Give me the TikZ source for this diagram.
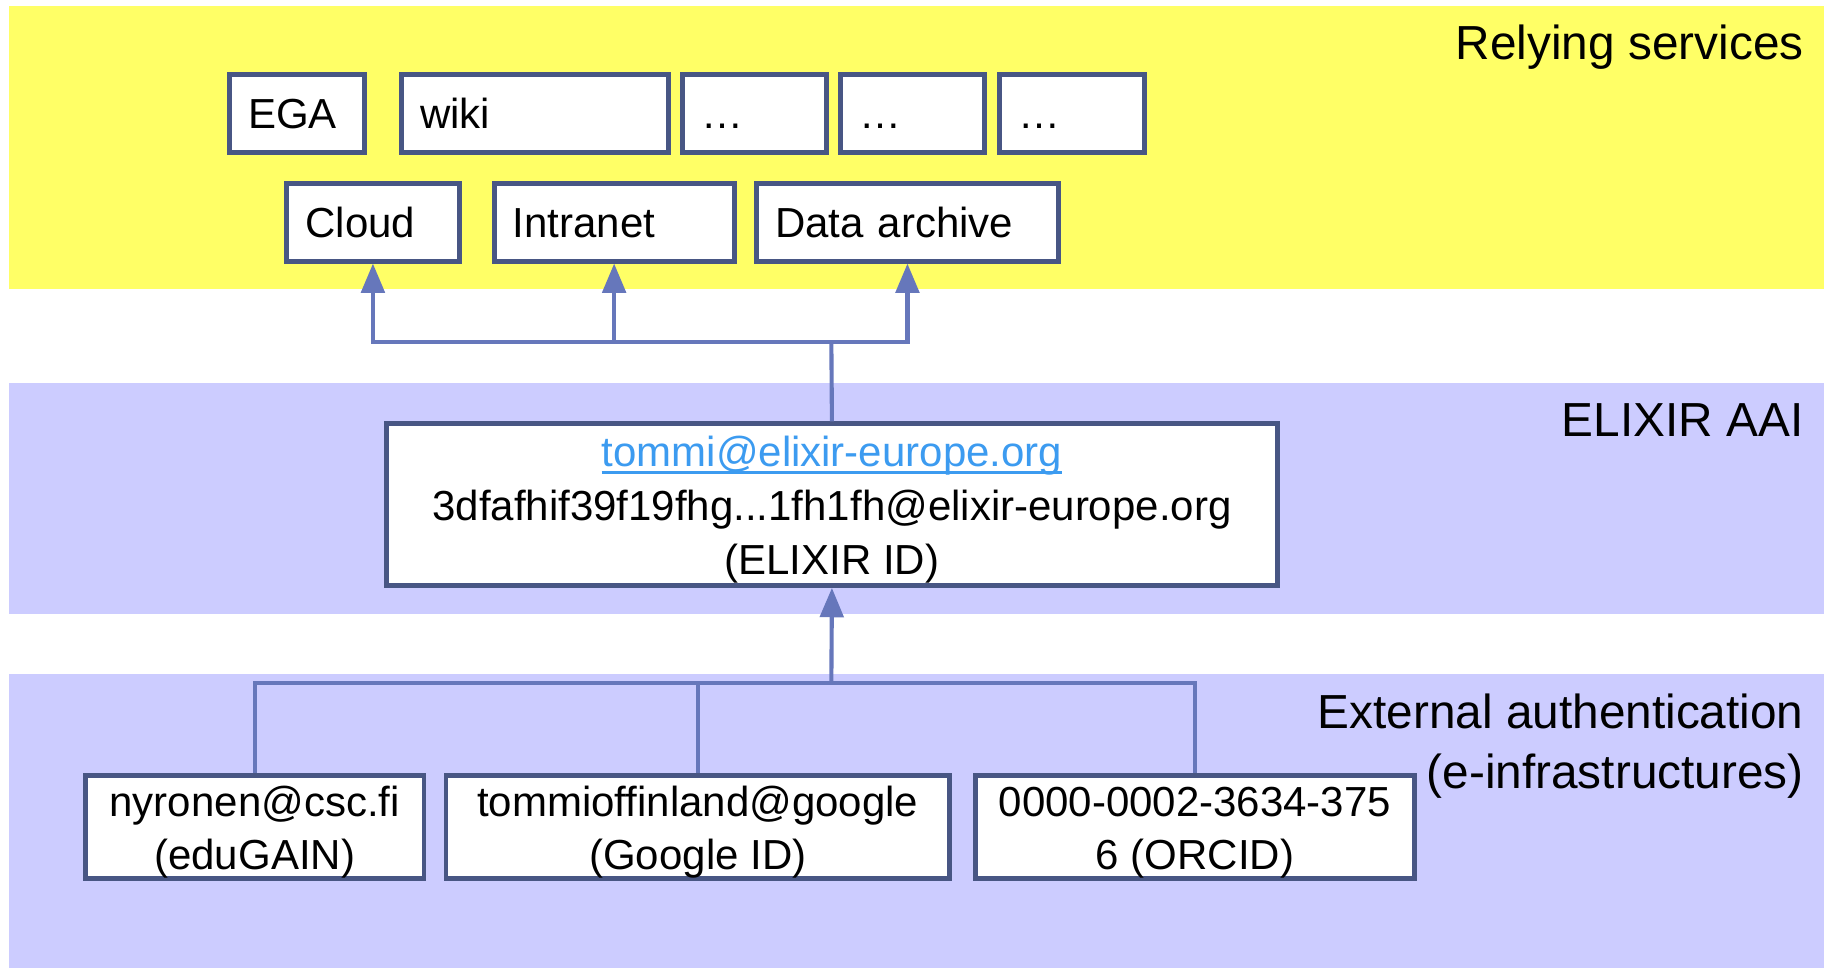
\documentclass[tikz,border=0pt]{standalone}
\usepackage{fontspec}
\setmainfont{Liberation Sans}
\usetikzlibrary{arrows.meta}
\definecolor{bandY}{RGB}{255,255,102}
\definecolor{bandB}{RGB}{204,204,255}
\definecolor{boxline}{RGB}{72,86,132}
\definecolor{conn}{RGB}{102,119,187}
\definecolor{linkblue}{RGB}{60,155,240}
\newcommand\ulinktext[1]{\leavevmode\setbox0\hbox{#1}\rlap{\rule[-0.16em]{\wd0}{0.075em}}\box0}
\newcommand\topstrut{\rule{0pt}{0.345cm}}
\tikzset{
  box/.style={draw=boxline, line width=1.2pt, fill=white, inner sep=0pt, font=\fontsize{10.2}{13}\selectfont},
  lbox/.style={box, inner xsep=0.16cm, align=left, text height=0.262cm, text depth=0pt, minimum height=0.66cm},
  cbox/.style={box, align=center},
  band/.style={font=\fontsize{11.6}{14}\selectfont, anchor=base east, inner sep=0pt},
  conline/.style={draw=conn, line width=1pt},
  conarrow/.style={conline, -{Triangle[length=0.25cm,width=0.2cm]}}
}
\begin{document}
\begin{tikzpicture}[x=0.01cm,y=-0.01cm]
\useasboundingbox (0,0) rectangle (1568,826.7);
% bands
\fill[bandY] (8,5) rectangle (1558,247);
\fill[bandB] (8,327) rectangle (1558,524);
\fill[bandB] (8,576) rectangle (1558,826.7);
% band labels
\node[band] (lrely) at (1541,51) {Relying services};
\node[band] (lelix) at (1541,373) {ELIXIR AAI};
\node[band] (lext1) at (1541,622) {External authentication};
\node[band] (lext2) at (1541,673) {(e-infrastructures)};
% top services
\node[lbox, text width=0.83cm] (ega) at (253.5,97) {EGA};
\node[lbox, text width=1.96cm] (wiki) at (457,97) {wiki};
\node[lbox, text width=0.91cm] (d1) at (644.5,97) {…};
\node[lbox, text width=0.91cm] (d2) at (779.5,97) {…};
\node[lbox, text width=0.91cm] (d3) at (915.5,97) {…};
\node[lbox, text width=1.15cm] (cloud) at (318.5,190) {Cloud};
\node[lbox, text width=1.73cm] (intranet) at (524.5,190) {Intranet};
\node[lbox, text width=2.26cm] (archive) at (775,190) {Data archive};
% elixir
\node[cbox, minimum width=7.61cm, minimum height=1.38cm] (elixir) at (710.5,431)
  {\topstrut\textcolor{linkblue}{\ulinktext{tommi@elixir-europe.org}}\\3dfafhif39f19fhg...1fh1fh@elixir-europe.org\\(ELIXIR ID)};
% external
\node[cbox, minimum width=2.89cm, minimum height=0.87cm] (edugain) at (217.5,706.5)
  {\topstrut nyronen@csc.fi\\(eduGAIN)};
\node[cbox, minimum width=4.30cm, minimum height=0.87cm] (google) at (596,706.5)
  {\topstrut tommioffinland@google\\(Google ID)};
\node[cbox, minimum width=3.75cm, minimum height=0.87cm] (orcid) at (1020.5,706.5)
  {\topstrut 0000-0002-3634-375\\6 (ORCID)};
% connectors
\coordinate (j1) at (710,292);
\coordinate (j2) at (710,583);
\draw[conline] (elixir.north) -- (j1);
\draw[conarrow] (j1) -| (cloud.south);
\draw[conarrow] (j1) -| (intranet.south);
\draw[conarrow] (j1) -| (archive.south);
\draw[conarrow] (j2) -- (elixir.south);
\draw[conline] (j2) -| (edugain.north);
\draw[conline] (j2) -| (google.north);
\draw[conline] (j2) -| (orcid.north);
\end{tikzpicture}
\end{document}
